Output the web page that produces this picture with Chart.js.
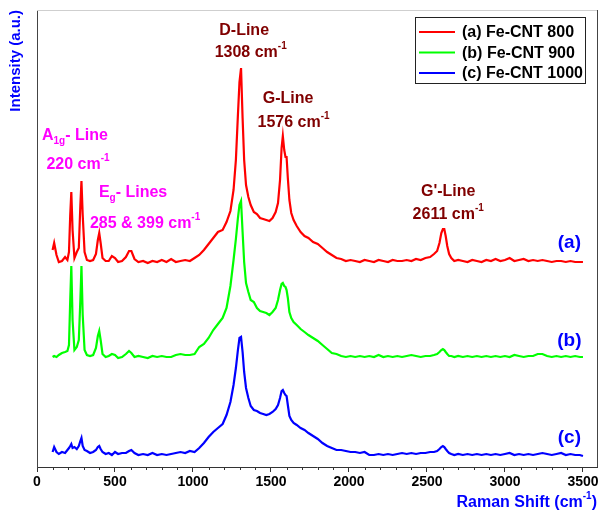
<!DOCTYPE html>
<html><head><meta charset="utf-8">
<script src="https://cdn.jsdelivr.net/npm/chart.js@4.4.1/dist/chart.umd.min.js"></script>
<style>html,body{margin:0;padding:0;background:#fff;}#wrap{width:605px;height:512px;position:relative;}</style>
</head><body><div id="wrap"><canvas id="c"></canvas></div>
<script>
// Raman shift (cm-1) sampling positions shared by all spectra
const ramanShift = [
 100,110,125,140,160,180,195,205,213,220,
 228,240,255,268,278,285,293,305,320,340,
 360,378,390,399,408,420,440,460,480,500,
 520,545,570,590,605,625,650,680,710,740,
 770,800,830,860,890,920,950,980,1010,1040,
 1070,1100,1130,1160,1190,1215,1240,1260,1275,1288,
 1298,1308,1318,1328,1340,1355,1370,1390,1410,1430,
 1450,1470,1490,1510,1530,1545,1558,1568,1576,1585,
 1593,1600,1608,1618,1630,1645,1665,1690,1715,1740,
 1770,1800,1830,1860,1890,1920,1950,1980,2010,2040,
 2070,2100,2130,2160,2190,2220,2250,2280,2310,2340,
 2370,2400,2430,2460,2490,2520,2545,2565,2580,2592,
 2602,2611,2620,2630,2642,2656,2675,2700,2730,2760,
 2790,2820,2850,2880,2910,2940,2970,3000,3030,3060,
 3090,3120,3150,3180,3210,3240,3270,3300,3330,3360,
 3390,3420,3450,3480,3500];
// (a) Fe-CNT 800 intensity (a.u., stacked)
const feCnt800 = [
 217,224,212,205,206,210,207,215,252,275,
 237,209,215,219,262,286,252,215,207,206,
 207,213,227,234,224,209,206,206,211,209,
 205,206,210,216,216,208,205,206,204,206,
 205,207,205,208,205,206,207,206,209,212,
 217,223,229,235,237,245,256,277,307,352,
 385,399,349,307,282,270,262,255,253,249,
 248,247,246,249,255,264,287,319,331,317,
 310,310,289,267,254,247,241,235,231,229,
 225,223,219,215,212,209,208,206,207,206,
 205,207,206,205,207,206,205,207,206,206,
 207,206,208,207,209,210,213,216,224,234,
 238,238,231,221,213,209,206,207,206,205,
 207,206,205,207,206,208,206,207,209,206,
 207,208,206,207,206,207,206,205,206,206,
 205,206,205,205,205];
// (b) Fe-CNT 900
const feCnt900 = [
 110,111,110,112,114,115,116,122,167,201,
 147,117,120,127,167,201,152,117,112,111,
 112,119,131,136,127,113,110,111,113,112,
 109,110,113,116,114,110,111,110,109,111,
 110,111,110,110,112,113,112,112,113,120,
 123,129,137,143,149,159,181,207,228,249,
 262,266,235,205,184,175,167,165,159,156,
 155,154,152,155,159,167,177,183,184,181,
 180,177,169,155,149,145,142,138,135,132,
 129,126,122,118,114,113,111,110,111,110,
 111,110,111,110,112,110,111,110,111,110,
 111,112,111,110,111,111,112,113,115,117,
 118,117,115,113,111,111,110,111,110,111,
 110,111,110,111,110,111,110,111,110,112,
 111,110,111,111,113,113,111,110,111,110,
 111,110,111,110,110];
// (c) Fe-CNT 1000
const feCnt1000 = [
 15,20,15,13,15,14,17,19,21,23,
 19,20,18,21,26,29,21,17,16,14,
 15,17,20,21,18,15,13,14,12,15,
 13,14,14,16,17,14,12,13,12,14,
 12,13,12,13,14,15,14,16,15,19,
 24,30,35,39,43,52,65,82,99,117,
 129,130,115,95,79,69,61,57,56,54,
 53,52,53,55,58,62,69,76,77,74,
 72,71,62,51,47,44,42,39,37,34,
 31,28,24,21,19,17,17,16,15,15,
 14,15,12,12,13,12,13,12,13,14,
 13,14,13,14,14,15,15,16,18,20,
 21,20,18,16,14,13,12,13,12,13,
 12,13,12,13,12,13,12,13,14,12,
 13,12,13,12,13,14,13,12,13,14,
 12,13,12,12,11];
const seriesLabels = ['(a) Fe-CNT 800','(b) Fe-CNT 900','(c) Fe-CNT 1000'];
const seriesColors = ['#FF0000','#00FF00','#0000FF'];
const xTickValues = [0,500,1000,1500,2000,2500,3000,3500];

const FONT = "Arial, 'Liberation Sans', Helvetica, sans-serif";
const f = s => `bold ${s}px ${FONT}`;
function drawRich(ctx, parts, x, y, align, size, color){
  const small = Math.round(size*0.62);
  const widths = parts.map(p => { ctx.font = f(p[1] ? small : size); return ctx.measureText(p[0]).width; });
  const total = widths.reduce((a,b)=>a+b,0);
  let cx = align==='center' ? x-total/2 : align==='right' ? x-total : x;
  ctx.fillStyle = color; ctx.textAlign='left'; ctx.textBaseline='middle';
  parts.forEach((p,i)=>{
    ctx.font = f(p[1] ? small : size);
    const dy = p[1]==='sup' ? -size*0.4 : p[1]==='sub' ? size*0.33 : 0;
    ctx.fillText(p[0], cx, y+dy);
    cx += widths[i];
  });
}

// text notes anchored in data coordinates
const notes = [
 {parts:[['D-Line']], x:1328, y:436, color:'#800000', align:'center', size:16},
 {parts:[['1308 cm'],['-1','sup']], x:1370, y:414, color:'#800000', align:'center', size:16},
 {parts:[['G-Line']], x:1610, y:368, color:'#800000', align:'center', size:16},
 {parts:[['1576 cm'],['-1','sup']], x:1645, y:344, color:'#800000', align:'center', size:16},
 {parts:[["G'-Line"]], x:2636, y:275, color:'#800000', align:'center', size:16},
 {parts:[['2611 cm'],['-1','sup']], x:2636, y:252, color:'#800000', align:'center', size:16},
 {parts:[['A'],['1g','sub'],['- Line']], x:32, y:331, color:'#FF00FF', align:'left', size:16},
 {parts:[['220 cm'],['-1','sup']], x:263, y:302, color:'#FF00FF', align:'center', size:16},
 {parts:[['E'],['g','sub'],['- Lines']], x:616, y:274, color:'#FF00FF', align:'center', size:16},
 {parts:[['285 & 399 cm'],['-1','sup']], x:693, y:243, color:'#FF00FF', align:'center', size:16},
 {parts:[['(a)']], x:3413, y:224, color:'#0000FF', align:'center', size:19},
 {parts:[['(b)']], x:3413, y:126, color:'#0000FF', align:'center', size:19},
 {parts:[['(c)']], x:3413, y:29, color:'#0000FF', align:'center', size:19}
];

const decor = {
  id:'decor',
  afterDatasetsDraw(chart){
    const {ctx, chartArea:ca, scales:{x,y}} = chart;
    ctx.save();
    ctx.lineWidth = 1;
    ctx.strokeStyle = '#cfcfcf';
    ctx.beginPath(); ctx.moveTo(ca.left, ca.top+0.5); ctx.lineTo(ca.right, ca.top+0.5); ctx.stroke();
    ctx.strokeStyle = '#444';
    ctx.beginPath(); ctx.moveTo(ca.right+0.5, ca.top); ctx.lineTo(ca.right+0.5, ca.bottom); ctx.stroke();
    ctx.strokeStyle = '#333';
    for(let v=100; v<=3500; v+=100){
      if(v%500===0) continue;
      const px = Math.round(x.getPixelForValue(v))+0.5;
      ctx.beginPath(); ctx.moveTo(px, ca.bottom); ctx.lineTo(px, ca.bottom+3); ctx.stroke();
    }
    notes.forEach(n => drawRich(ctx, n.parts, x.getPixelForValue(n.x), y.getPixelForValue(n.y), n.align, n.size, n.color));
    drawRich(ctx, [['Raman Shift (cm'],['-1','sup'],[')']], ca.right, 503, 'right', 16, '#0000FF');
    const bx = ca.right-182, by = ca.top+7, bw = 170, bh = 66;
    ctx.fillStyle = '#fff'; ctx.fillRect(bx,by,bw,bh);
    ctx.strokeStyle = '#222'; ctx.lineWidth = 1;
    ctx.strokeRect(bx+0.5, by+0.5, bw, bh);
    chart.data.datasets.forEach((ds,i)=>{
      const ly = by + 15 + i*20.5;
      ctx.strokeStyle = ds.borderColor; ctx.lineWidth = 2;
      ctx.beginPath(); ctx.moveTo(bx+4, ly); ctx.lineTo(bx+40, ly); ctx.stroke();
      ctx.fillStyle = '#000'; ctx.font = f(16); ctx.textAlign='left'; ctx.textBaseline='middle';
      ctx.fillText(ds.label, bx+47, ly+1);
    });
    ctx.restore();
  }
};

const series = [feCnt800, feCnt900, feCnt1000];
new Chart(document.getElementById('c'), {
  type:'line',
  data:{
    datasets: series.map((vals,i)=>({
      label: seriesLabels[i],
      data: ramanShift.map((r,k)=>({x:r, y:vals[k]})),
      borderColor: seriesColors[i],
      backgroundColor: seriesColors[i],
      borderWidth: 2.2,
      pointRadius: 0,
      tension: 0,
      fill: false
    }))
  },
  options:{
    responsive:true, maintainAspectRatio:false, animation:false,
    layout:{padding:{top:10, right:8, left:0, bottom:0}},
    plugins:{legend:{display:false}, tooltip:{enabled:false}},
    scales:{
      x:{
        type:'linear', min:0, max:3590,
        afterFit: s => { s.height = 45; },
        afterBuildTicks: s => { s.ticks = xTickValues.map(v=>({value:v})); },
        ticks:{color:'#000', font:{family:FONT, size:14, weight:'bold'}, padding:2, autoSkip:false, maxRotation:0, includeBounds:false,
               callback: v => String(v)},
        grid:{display:true, drawOnChartArea:false, drawTicks:true, tickLength:5, color:'#333'},
        border:{display:true, color:'#333', width:1},
        title:{display:false}
      },
      y:{
        min:0, max:457,
        afterFit: s => { s.width = 37; },
        ticks:{display:false},
        grid:{display:false},
        border:{display:true, color:'#444', width:1},
        title:{display:true, text:'Intensity (a.u.)', color:'#0000FF', align:'end',
               font:{family:FONT, size:15, weight:'bold'}, padding:{top:7, bottom:0}}
      }
    }
  },
  plugins:[decor]
});
</script>
</body></html>
